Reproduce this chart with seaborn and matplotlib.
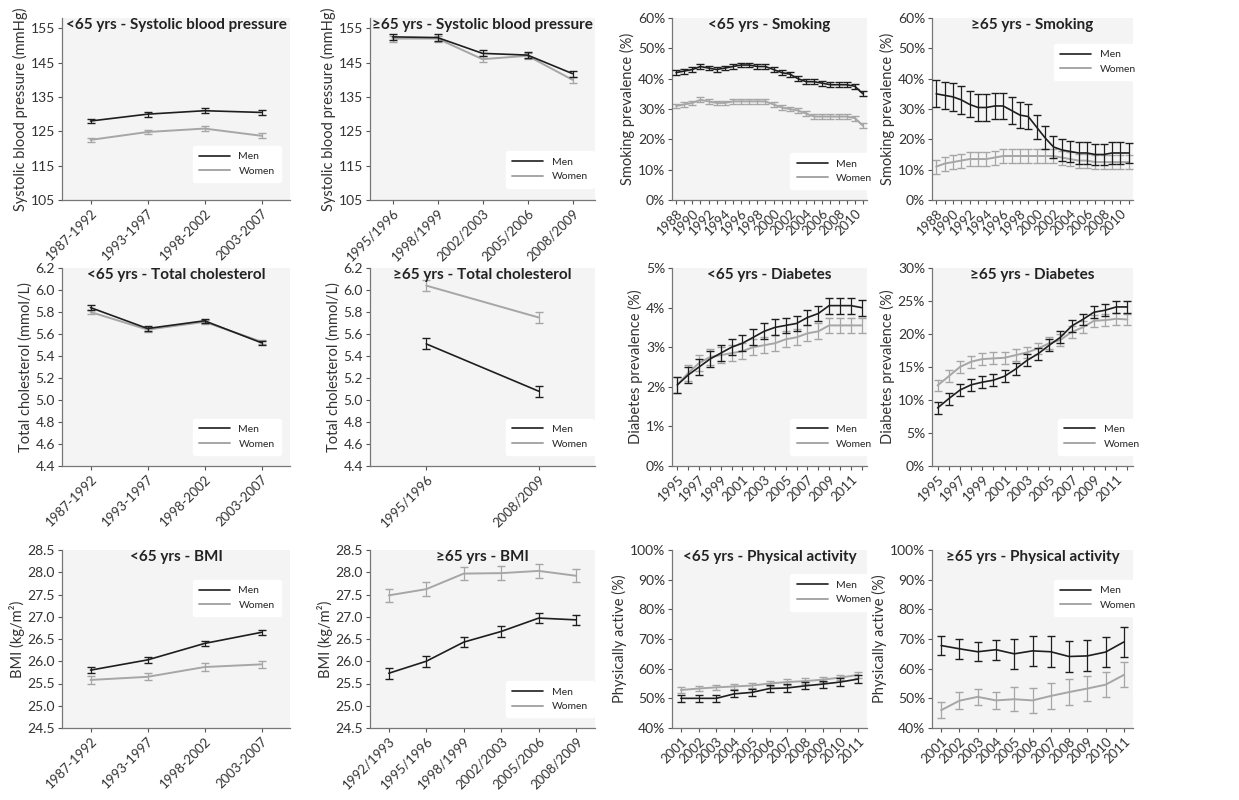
import matplotlib
matplotlib.use("Agg")
import matplotlib.pyplot as plt
import seaborn as sns
import numpy as np
from matplotlib.ticker import FuncFormatter
from matplotlib.lines import Line2D

sns.set_theme(style="white")
plt.rcParams['font.family'] = ['Lato', 'DejaVu Sans']

MEN_C = "#1e1e1e"
WOM_C = "#a6a6a6"

# ---- data ----
p4 = ["1987-1992", "1993-1997", "1998-2002", "2003-2007"]
p5 = ["1995/1996", "1998/1999", "2002/2003", "2005/2006", "2008/2009"]
p2 = ["1995/1996", "2008/2009"]
p6 = ["1992/1993", "1995/1996", "1998/1999", "2002/2003", "2005/2006", "2008/2009"]
yrs_smk = list(range(1988, 2012))
yrs_dia = list(range(1995, 2013))
yrs_pa = list(range(2001, 2012))

sbp_y_m = [128, 130, 131, 130.5]
sbp_y_w = [122.5, 124.8, 125.8, 123.7]
sbp_o_m = [152.5, 152.3, 147.7, 147.2, 141.8]
sbp_o_w = [152, 152, 146, 147, 140]

chol_y_m = [5.84, 5.65, 5.72, 5.52]
chol_y_w = [5.80, 5.64, 5.71, 5.53]
chol_o_m = [5.51, 5.08]
chol_o_w = [6.04, 5.75]

bmi_y_m = [25.80, 26.03, 26.40, 26.65]
bmi_y_w = [25.58, 25.65, 25.87, 25.93]
bmi_o_m = [25.73, 26.00, 26.43, 26.67, 26.97, 26.93]
bmi_o_w = [27.48, 27.62, 27.97, 27.98, 28.03, 27.92]

smk_y_m = [42, 42.5, 43, 44, 43.5, 43, 43.5, 44, 44.5, 44.5, 44, 44, 43, 42, 41.5, 40, 39, 39, 38.5, 38, 38, 38, 37.5, 35]
smk_y_w = [31, 31.5, 32, 33, 32.5, 32, 32, 32.5, 32.5, 32.5, 32.5, 32.5, 31.5, 30.5, 30, 29.5, 28.5, 27.5, 27.5, 27.5, 27.5, 27.5, 27, 24.5]
smk_o_m = [35, 34.5, 34, 33, 31.5, 30.5, 30.5, 31, 31, 29.5, 28, 27.5, 24, 20.5, 17.5, 16.5, 16, 15.5, 15.5, 15, 15, 15.5, 15.5, 15.5]
smk_o_w = [11, 12, 12.5, 13, 13.5, 13.5, 13.5, 14, 14.5, 14.5, 14.5, 14.5, 14.5, 14.5, 14.5, 14, 13.5, 13, 13, 12.5, 12.5, 12.5, 12.5, 12.5]
smk_o_m_err = [4.5, 4.5, 4.5, 4.5, 4.3, 4.3, 4.3, 4.3, 4.3, 4.3, 4.3, 4.2, 4.0, 3.8, 3.5, 3.5, 3.5, 3.5, 3.5, 3.5, 3.5, 3.5, 3.5, 3.3]

dia_y_m = [2.05, 2.3, 2.5, 2.7, 2.85, 3.0, 3.1, 3.25, 3.4, 3.5, 3.55, 3.6, 3.75, 3.85, 4.05, 4.05, 4.05, 4.0]
dia_y_w = [2.05, 2.35, 2.6, 2.75, 2.8, 2.85, 2.9, 3.0, 3.05, 3.1, 3.2, 3.25, 3.35, 3.4, 3.55, 3.55, 3.55, 3.55]
dia_o_m = [8.8, 10.2, 11.5, 12.3, 12.7, 13.0, 13.6, 14.7, 16.0, 17.0, 18.3, 19.5, 21.2, 22.2, 23.3, 23.6, 24.1, 24.1]
dia_o_w = [12.2, 13.6, 15.0, 15.8, 16.2, 16.3, 16.4, 16.8, 17.2, 17.8, 18.6, 19.1, 20.3, 21.0, 22.0, 22.1, 22.3, 22.2]

pa_y_m = [50, 50, 50, 51.5, 52, 53.3, 53.5, 54.2, 54.8, 55.5, 56.5]
pa_y_w = [52.8, 53.3, 53.7, 54.0, 54.3, 55.0, 55.5, 55.8, 56.3, 57.0, 57.9]
pa_o_m = [67.8, 66.7, 65.7, 66.4, 65.0, 66.0, 65.7, 64.1, 64.3, 65.6, 69.0]
pa_o_w = [46.0, 49.2, 50.5, 49.3, 49.7, 49.3, 50.8, 52.1, 53.3, 54.6, 57.9]
pa_o_m_err = [3.1, 3.3, 3.2, 3.4, 5.0, 5.0, 5.2, 5.2, 5.2, 5.0, 5.0]
pa_o_w_err = [2.6, 2.8, 2.8, 2.9, 4.0, 4.2, 4.5, 4.3, 4.2, 4.3, 4.2]

W, H = 1239, 800
fig = plt.figure(figsize=(W / 100, H / 100), dpi=100)

cols = [(62, 290), (370, 595), (672, 867), (932, 1133)]
rows = [(18, 200), (268, 466), (550, 728)]


def panel(r, c, title, ylabel, labels, m, w, merr, werr, ylim, yticks,
          pct=False, legloc=(0.6, 0.08), ticklabel_every=1, tfmt=None):
    x0, x1 = cols[c]
    yt, yb = rows[r]
    ax = fig.add_axes([x0 / W, 1 - yb / H, (x1 - x0) / W, (yb - yt) / H])
    ax.set_facecolor("#f4f4f4")
    n = len(labels)
    x = np.arange(n)
    ax.errorbar(x, w, yerr=werr, color=WOM_C, lw=1.4, capsize=3, elinewidth=0.9, zorder=2)
    ax.errorbar(x, m, yerr=merr, color=MEN_C, lw=1.2, capsize=3, elinewidth=0.9, zorder=3)
    ax.set_xlim(-0.5, n - 0.5)
    ax.set_ylim(*ylim)
    ax.set_yticks(yticks)
    if pct:
        ax.yaxis.set_major_formatter(FuncFormatter(lambda v, p: f"{v:.0f}%"))
    elif tfmt:
        ax.yaxis.set_major_formatter(FuncFormatter(lambda v, p: tfmt.format(v)))
    ax.set_xticks(x)
    ax.set_xticklabels([l if i % ticklabel_every == 0 else "" for i, l in enumerate(labels)],
                       rotation=45, ha="right", rotation_mode="anchor", fontsize=9.5, color="#333")
    ax.tick_params(axis="both", direction="out", length=3, width=0.8, colors="#555", labelcolor="#333",
                   bottom=True, left=True, pad=2)
    ax.tick_params(axis="y", labelsize=10)
    for s in ["top", "right"]:
        ax.spines[s].set_visible(False)
    for s in ["left", "bottom"]:
        ax.spines[s].set_color("#777")
        ax.spines[s].set_linewidth(0.9)
    ax.set_ylabel(ylabel, fontsize=10.5, color="#333", labelpad=2)
    ax.text(0.5, 1.0, title, transform=ax.transAxes, ha="center", va="top",
            fontsize=11, fontweight="bold", color="#222")
    hs = [Line2D([], [], color=MEN_C, lw=1.2), Line2D([], [], color=WOM_C, lw=1.4)]
    ax.legend(hs, ["Men", "Women"], loc="lower left", bbox_to_anchor=legloc, fontsize=7.5,
              frameon=True, facecolor="white", edgecolor="white", framealpha=1, handlelength=3,
              borderpad=0.6, labelspacing=0.5)
    return ax


sbp_ticks = [105, 115, 125, 135, 145, 155]
panel(0, 0, "<65 yrs - Systolic blood pressure", "Systolic blood pressure (mmHg)", p4,
      sbp_y_m, sbp_y_w, 0.7, 0.7, (105, 158), sbp_ticks, legloc=(0.55, 0.07))
panel(0, 1, "≥65 yrs - Systolic blood pressure", "Systolic blood pressure (mmHg)", p5,
      sbp_o_m, sbp_o_w, 0.9, 0.9, (105, 158), sbp_ticks, legloc=(0.58, 0.04))
panel(0, 2, "<65 yrs - Smoking", "Smoking prevalence (%)", [str(y) for y in yrs_smk],
      smk_y_m, smk_y_w, 0.8, 0.8, (0, 60), range(0, 61, 10), pct=True, ticklabel_every=2,
      legloc=(0.58, 0.03))
panel(0, 3, "≥65 yrs - Smoking", "Smoking prevalence (%)", [str(y) for y in yrs_smk],
      smk_o_m, smk_o_w, smk_o_m_err, 2.3, (0, 60), range(0, 61, 10), pct=True, ticklabel_every=2,
      legloc=(0.58, 0.63))
chol_ticks = np.round(np.arange(4.4, 6.21, 0.2), 1)
panel(1, 0, "<65 yrs - Total cholesterol", "Total cholesterol (mmol/L)", p4,
      chol_y_m, chol_y_w, 0.02, 0.02, (4.4, 6.2), chol_ticks, tfmt="{:.1f}", legloc=(0.55, 0.03))
panel(1, 1, "≥65 yrs - Total cholesterol", "Total cholesterol (mmol/L)", p2,
      chol_o_m, chol_o_w, 0.05, 0.05, (4.4, 6.2), chol_ticks, tfmt="{:.1f}", legloc=(0.58, 0.03))
panel(1, 2, "<65 yrs - Diabetes", "Diabetes prevalence (%)", [str(y) for y in yrs_dia],
      dia_y_m, dia_y_w, 0.2, 0.2, (0, 5), range(0, 6), pct=True, ticklabel_every=2,
      legloc=(0.58, 0.03))
panel(1, 3, "≥65 yrs - Diabetes", "Diabetes prevalence (%)", [str(y) for y in yrs_dia],
      dia_o_m, dia_o_w, 0.9, 0.9, (0, 30), range(0, 31, 5), pct=True, ticklabel_every=2,
      legloc=(0.6, 0.03))
bmi_ticks = np.arange(24.5, 28.51, 0.5)
panel(2, 0, "<65 yrs - BMI", "BMI (kg/m²)", p4,
      bmi_y_m, bmi_y_w, 0.06, 0.08, (24.5, 28.5), bmi_ticks, tfmt="{:.1f}", legloc=(0.55, 0.6))
panel(2, 1, "≥65 yrs - BMI", "BMI (kg/m²)", p6,
      bmi_o_m, bmi_o_w, 0.12, 0.15, (24.5, 28.5), bmi_ticks, tfmt="{:.1f}", legloc=(0.58, 0.03))
panel(2, 2, "<65 yrs - Physical activity", "Physically active (%)", [str(y) for y in yrs_pa],
      pa_y_m, pa_y_w, 1.2, 0.9, (40, 100), range(40, 101, 10), pct=True, legloc=(0.58, 0.63))
panel(2, 3, "≥65 yrs - Physical activity", "Physically active (%)", [str(y) for y in yrs_pa],
      pa_o_m, pa_o_w, pa_o_m_err, pa_o_w_err, (40, 100), range(40, 101, 10), pct=True,
      legloc=(0.58, 0.6))

fig.savefig("out.png", dpi=100)
